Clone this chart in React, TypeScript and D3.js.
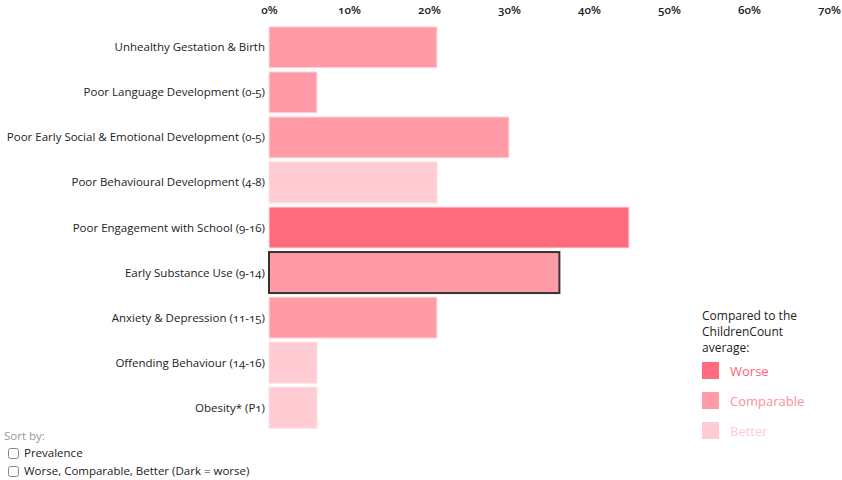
import * as d3 from 'd3'
import { useEffect, useRef } from 'react'

// indicators, top to bottom
const categories = [
  'Unhealthy Gestation & Birth',
  'Poor Language Development (0-5)',
  'Poor Early Social & Emotional Development (0-5)',
  'Poor Behavioural Development (4-8)',
  'Poor Engagement with School (9-16)',
  'Early Substance Use (9-14)',
  'Anxiety & Depression (11-15)',
  'Offending Behaviour (14-16)',
  'Obesity* (P1)',
]
const prevalence = [21, 6, 30, 21, 45, 36.3, 21, 6, 6]
const comparison = ['Comparable', 'Comparable', 'Comparable', 'Better', 'Worse', 'Comparable', 'Comparable', 'Better', 'Better']
const highlighted = 'Early Substance Use (9-14)'

const statusKeys = ['Worse', 'Comparable', 'Better']
const tickValues = [0, 10, 20, 30, 40, 50, 60, 70]
const sortOptions = ['Prevalence', 'Worse, Comparable, Better (Dark = worse)']

const WIDTH = 842
const HEIGHT = 480
const MARGIN = { TOP: 25, LEFT: 269, BOTTOM: 50 }
const FONT = '"Open Sans", "Noto Sans", sans-serif'

const App = () => {
  const ref = useRef<SVGSVGElement>(null)

  useEffect(() => {
    drawChart(ref.current)
  }, [])

  return (
    <div style={{ position: 'absolute', left: 0, top: 0 }}>
      <svg ref={ref} width={WIDTH} height={HEIGHT} style={{ display: 'block' }}></svg>
    </div>
  )
}

const drawChart = (node: any) => {
  const svg = d3.select(node)
  svg.selectAll('*').remove()

  const data = categories.map((c, i) => ({ name: c, value: prevalence[i], status: comparison[i] }))

  const x = d3.scaleLinear().domain([0, 70]).range([MARGIN.LEFT, MARGIN.LEFT + 560])
  const y = d3.scaleBand()
    .domain(categories)
    .range([MARGIN.TOP, HEIGHT - MARGIN.BOTTOM])
    .paddingInner(0.09)
    .paddingOuter(0.04)

  const color = d3.scaleOrdinal<string, string>()
    .domain(statusKeys)
    .range(['#ff6b7f', '#ff9ba7', '#ffccd3'])
  const legendText = d3.scaleOrdinal<string, string>()
    .domain(statusKeys)
    .range(['#ff5f79', '#ff8d9d', '#ffcbd3'])

  // top axis, labels only
  const axis = svg.append('g')
    .attr('transform', `translate(0,${MARGIN.TOP - 8})`)
    .call(d3.axisTop(x).tickValues(tickValues).tickSize(0).tickFormat((d: any) => d + '%'))
  axis.select('.domain').remove()
  axis.selectAll('text')
    .attr('font-family', FONT)
    .attr('font-size', 11.5)
    .attr('font-weight', 600)
    .attr('fill', '#222')
    .style('font-feature-settings', '"onum"')

  // bars
  svg.append('g')
    .selectAll('rect')
    .data(data)
    .join('rect')
    .attr('x', x(0))
    .attr('y', d => y(d.name)!)
    .attr('width', d => x(d.value) - x(0))
    .attr('height', y.bandwidth())
    .attr('fill', d => color(d.status))
    .attr('stroke', d => d.name === highlighted ? '#333' : '#ffe0e4')
    .attr('stroke-width', d => d.name === highlighted ? 2 : 1)

  // row labels
  svg.append('g')
    .selectAll('text')
    .data(data)
    .join('text')
    .attr('x', MARGIN.LEFT - 4)
    .attr('y', d => y(d.name)! + y.bandwidth() / 2)
    .attr('dy', '0.35em')
    .attr('text-anchor', 'end')
    .attr('font-family', FONT)
    .attr('font-size', 11.5)
    .attr('fill', '#222')
    .style('font-feature-settings', '"onum"')
    .text(d => d.name)

  // legend
  const legend = svg.append('g').attr('transform', 'translate(702,0)')
  legend.selectAll('text.title')
    .data(['Compared to the', 'ChildrenCount', 'average:'])
    .join('text')
    .attr('class', 'title')
    .attr('y', (d, i) => 320 + i * 16)
    .attr('font-family', FONT)
    .attr('font-size', 12)
    .attr('fill', '#222')
    .text(d => d)
  const item = legend.selectAll('g.item')
    .data(statusKeys)
    .join('g')
    .attr('class', 'item')
    .attr('transform', (d, i) => `translate(0,${362 + i * 30})`)
  item.append('rect')
    .attr('width', 17)
    .attr('height', 17)
    .attr('fill', d => color(d))
  item.append('text')
    .attr('x', 28)
    .attr('y', 9)
    .attr('dy', '0.35em')
    .attr('font-family', FONT)
    .attr('font-size', 13)
    .attr('fill', d => legendText(d))
    .text(d => d)

  // sort controls
  const sort = svg.append('g').attr('transform', 'translate(4,0)')
  sort.append('text')
    .attr('y', 436)
    .attr('dy', '0.35em')
    .attr('font-family', FONT)
    .attr('font-size', 11.5)
    .attr('fill', '#999')
    .text('Sort by:')
  const opt = sort.selectAll('g.opt')
    .data(sortOptions)
    .join('g')
    .attr('class', 'opt')
    .attr('transform', (d, i) => `translate(0,${453 + i * 18})`)
  opt.append('rect')
    .attr('x', 4.5)
    .attr('y', -4.5)
    .attr('width', 10)
    .attr('height', 10)
    .attr('rx', 2)
    .attr('fill', '#fff')
    .attr('stroke', '#888')
  opt.append('text')
    .attr('x', 20)
    .attr('y', 0)
    .attr('dy', '0.35em')
    .attr('font-family', FONT)
    .attr('font-size', 11.5)
    .attr('fill', '#222')
    .text(d => d)
}

export default App
